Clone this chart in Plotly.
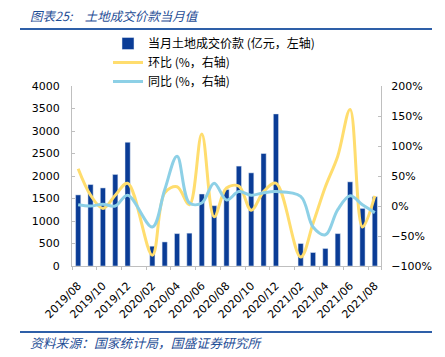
import plotly.graph_objects as go

months = ["2019/08","2019/09","2019/10","2019/11","2019/12","2020/01","2020/02","2020/03",
          "2020/04","2020/05","2020/06","2020/07","2020/08","2020/09","2020/10","2020/11",
          "2020/12","2021/01","2021/02","2021/03","2021/04","2021/05","2021/06","2021/07","2021/08"]
land_value = [1580, 1810, 1735, 2035, 2750, None, 440, 535, 720, 730, 1600, 1340, 1700,
              2220, 2070, 2500, 3380, None, 500, 300, 390, 720, 1870, 1280, 1540]
mom = [62, 18, -4, 18, 38, None, -82, 22, 32, 2, 120, -18, 30,
       33, -7, 24, 38, None, -85, -29, 32, 83, 161, -35, 17]
yoy = [2, 0, 3, 0, 18, None, -35, 27, 83, 5, 5, 38, 10,
       24, 18, 22, 24, None, 16, -35, -48, -6, 17, 2, -11]
tick_labels = months[::2]

W, H = 445, 357
L, R, T, B = 72, 381, 86, 266

def px(x):
    return (x - L) / (R - L)

def py(y):
    return (B - y) / (B - T)

fig = go.Figure()
fig.add_trace(go.Bar(x=months, y=land_value, name="当月土地成交价款 (亿元，左轴)",
                     marker_color="#0A3C96", width=0.42, yaxis="y"))
fig.add_trace(go.Scatter(x=months, y=mom, name="环比 (%，右轴)", mode="lines",
                         line=dict(color="#FFDD6E", width=3, shape="spline", smoothing=1),
                         connectgaps=True, yaxis="y2"))
fig.add_trace(go.Scatter(x=months, y=yoy, name="同比 (%，右轴)", mode="lines",
                         line=dict(color="#8DD0E6", width=3, shape="spline", smoothing=1),
                         connectgaps=True, yaxis="y2"))

axis_font = dict(family="DejaVu Sans", size=11, color="#000000")
fig.update_layout(
    width=W, height=H,
    margin=dict(l=L, r=W - R, t=T, b=H - B, pad=0, autoexpand=False),
    paper_bgcolor="white", plot_bgcolor="white",
    showlegend=True,
    legend=dict(xref="container", yref="container", x=108 / W, y=1 - 29 / H,
                xanchor="left", yanchor="top",
                font=dict(family="Noto Sans CJK SC", size=12, color="#000"),
                bgcolor="rgba(0,0,0,0)", tracegroupgap=0, itemwidth=30),
    bargap=0.5,
    xaxis=dict(type="category", categoryorder="array", categoryarray=months,
               tickmode="array", tickvals=tick_labels, ticktext=tick_labels,
               tickangle=-45, tickfont=axis_font, showgrid=False, automargin=False,
               showline=True, linecolor="#BFBFBF", linewidth=1, tickson="boundaries",
               ticks="outside", ticklen=3, tickcolor="#BFBFBF", ticklabelstandoff=8,
               range=[-0.5, len(months) - 0.5]),
    yaxis=dict(range=[0, 4000], dtick=500, tickfont=axis_font, showgrid=False,
               automargin=False, showline=True, linecolor="#BFBFBF", linewidth=1,
               ticks="inside", ticklen=3, tickcolor="#BFBFBF", zeroline=False,
               ticklabelstandoff=9),
    yaxis2=dict(range=[-100, 200], dtick=50, ticksuffix="%", overlaying="y", side="right",
                tickfont=axis_font, showgrid=False, showline=True, linecolor="#BFBFBF",
                automargin=False, linewidth=1, ticks="inside", ticklen=3,
                tickcolor="#BFBFBF", zeroline=False, ticklabelstandoff=7),
    font=dict(family="DejaVu Sans"),
)

fig.add_annotation(text="<i>图表25:\u3000土地成交价款当月值</i>", xref="paper", yref="paper",
                   x=px(28), y=py(15), xanchor="left", yanchor="middle", showarrow=False,
                   font=dict(family="Noto Sans CJK SC", size=12.5, color="#1F4E96"))
fig.add_annotation(text="<i>资料来源：国家统计局，国盛证券研究所</i>", xref="paper", yref="paper",
                   x=px(28), y=py(342), xanchor="left", yanchor="middle", showarrow=False,
                   font=dict(family="Noto Sans CJK SC", size=12.8, color="#1F4E96"))
fig.add_shape(type="line", xref="paper", yref="paper", x0=px(20), x1=px(432),
              y0=py(29), y1=py(29), line=dict(color="#2E5FA8", width=2))
fig.add_shape(type="line", xref="paper", yref="paper", x0=px(20), x1=px(432),
              y0=py(332), y1=py(332), line=dict(color="#2E5FA8", width=2))

fig.write_html("out.html", config={"displayModeBar": False},
               post_script="document.body.style.margin='0';")
